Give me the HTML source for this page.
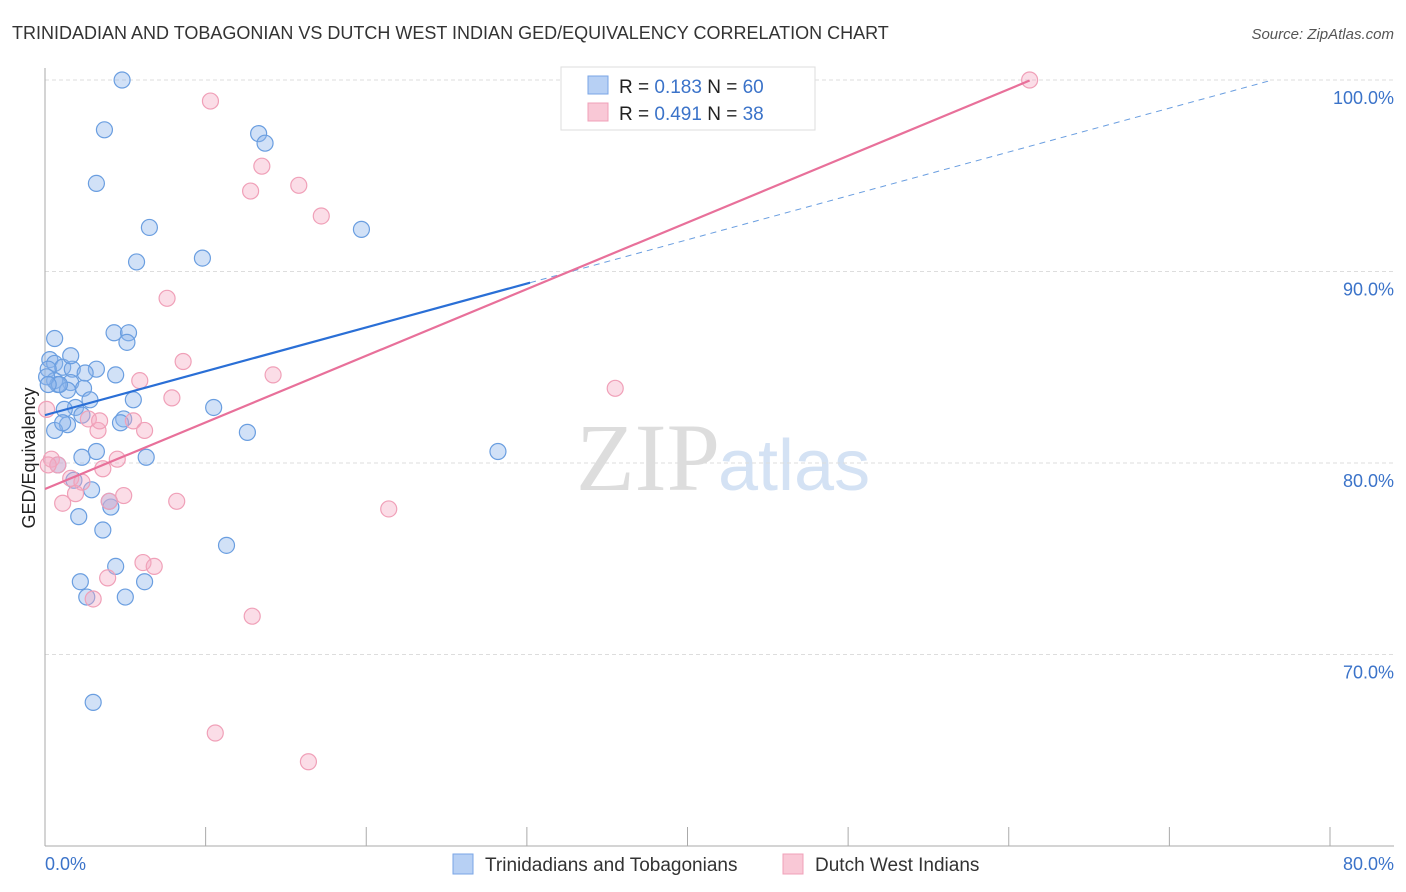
<!DOCTYPE html>
<html><head><meta charset="utf-8"><style>
body{margin:0;background:#fff;font-family:"Liberation Sans",sans-serif;}
svg{display:block}
</style></head><body>
<svg id="chart" width="1406" height="892">
<text x="12" y="39" font-size="18" fill="#333">TRINIDADIAN AND TOBAGONIAN VS DUTCH WEST INDIAN GED/EQUIVALENCY CORRELATION CHART</text>
<text x="1394" y="39" font-size="15" fill="#555" font-style="italic" text-anchor="end">Source: ZipAtlas.com</text>
<text x="720" y="490" font-size="96" fill="#ddd" font-family="Liberation Serif,serif" text-anchor="end">ZIP</text>
<text x="718" y="490" font-size="72" fill="#d4e2f4">atlas</text>
<g id="grid"></g>
<g id="axes"></g>
<g id="marks"></g>
<g id="lines"></g>
<text transform="translate(35,458) rotate(-90)" font-size="18" fill="#222" text-anchor="middle">GED/Equivalency</text>
<text x="45" y="870" font-size="18" fill="#3b73c9">0.0%</text>
<text x="1394" y="870" font-size="18" fill="#3b73c9" text-anchor="end">80.0%</text>
<g>
<rect x="561" y="67" width="254" height="63" fill="#fff" stroke="#ddd"/>
<rect x="588" y="76" width="20" height="18" fill="#b7d0f4" stroke="#7aa5e6"/>
<rect x="588" y="103" width="20" height="18" fill="#f9c8d6" stroke="#f0a0b8"/>
<text x="619" y="93" font-size="19" fill="#222">R = <tspan fill="#3b73c9">0.183</tspan>   N = <tspan fill="#3b73c9">60</tspan></text>
<text x="619" y="120" font-size="19" fill="#222">R = <tspan fill="#3b73c9">0.491</tspan>   N = <tspan fill="#3b73c9">38</tspan></text>
</g>
<g>
<rect x="453" y="854" width="20" height="20" fill="#b7d0f4" stroke="#7aa5e6"/>
<text x="485" y="871" font-size="19" fill="#333">Trinidadians and Tobagonians</text>
<rect x="783" y="854" width="20" height="20" fill="#f9c8d6" stroke="#f0a0b8"/>
<text x="815" y="871" font-size="19" fill="#333">Dutch West Indians</text>
</g>
</svg>
<script>
const yTicks=[100,90,80,70];
const yTickLabels=["100.0%","90.0%","80.0%","70.0%"];
const xTicks=[0,10,20,30,40,50,60,70,80];
const blueX=[4.8,3.7,13.3,13.7,3.2,6.5,19.7,5.7,9.8,0.6,4.3,5.2,5.1,0.3,0.6,1.1,0.2,1.7,0.6,3.2,4.4,1.6,0.8,1.4,2.4,2.8,5.5,1.9,1.2,10.5,2.3,1.4,4.9,4.7,0.6,12.6,3.2,2.3,6.3,28.2,0.8,1.8,2.9,4.1,4.0,2.1,3.6,11.3,4.4,2.2,6.2,2.6,5.0,3.0,0.1,0.9,2.5,0.2,1.1,1.6];
const blueY=[100,97.4,97.2,96.7,94.6,92.3,92.2,90.5,90.7,86.5,86.8,86.8,86.3,85.4,85.2,85.0,84.9,84.9,84.3,84.9,84.6,84.2,84.1,83.8,83.9,83.3,83.3,82.9,82.8,82.9,82.5,82.0,82.3,82.1,81.7,81.6,80.6,80.3,80.3,80.6,79.9,79.1,78.6,77.7,78.0,77.2,76.5,75.7,74.6,73.8,73.8,73.0,73.0,67.5,84.5,84.1,84.7,84.1,82.1,85.6];
const pinkX=[61.3,10.3,13.5,15.8,12.8,17.2,7.6,8.6,5.9,14.2,7.9,35.5,5.5,6.2,3.3,2.7,0.1,0.4,0.8,4.5,3.6,1.6,2.3,1.9,4.9,1.1,4.0,8.2,21.4,6.1,6.8,3.9,3.0,12.9,10.6,16.4,0.2,3.4];
const pinkY=[100,98.9,95.5,94.5,94.2,92.9,88.6,85.3,84.3,84.6,83.4,83.9,82.2,81.7,81.7,82.3,82.8,80.2,79.9,80.2,79.7,79.2,79.0,78.4,78.3,77.9,78.0,78.0,77.6,74.8,74.6,74.0,72.9,72.0,65.9,64.4,79.9,82.2];
const blueTrend=[82.5,0.229];
const pinkTrend=[78.64,0.348];
const NS="http://www.w3.org/2000/svg";
const X=v=>45+v/80*1285;
const Y=v=>80+(100-v)*19.15;
function mk(t,a,p){const e=document.createElementNS(NS,t);for(const k in a)e.setAttribute(k,a[k]);p.appendChild(e);return e;}
const grid=document.getElementById('grid'),axes=document.getElementById('axes'),marks=document.getElementById('marks'),lines=document.getElementById('lines');
yTicks.forEach((t,i)=>{
 const l=mk('line',{x1:45,x2:1394,y1:Y(t),y2:Y(t),stroke:'#ddd','stroke-dasharray':'4,3'},grid);
 
 
 const tx=mk('text',{x:1394,y:Y(t)+24,'font-size':18,fill:'#3b73c9','text-anchor':'end'},grid);
 tx.textContent=yTickLabels[i];
 
 
});
const ya=mk('line',{x1:45,x2:45,y1:68,y2:846,stroke:'#aaa'},axes);


const xa=mk('line',{x1:45,x2:1394,y1:846,y2:846,stroke:'#aaa'},axes);


xTicks.forEach(t=>{
 const l=mk('line',{x1:X(t),x2:X(t),y1:827,y2:846,stroke:'#aaa'},axes);
 
 
});
blueX.forEach((v,i)=>{
 const c=mk('circle',{cx:X(v),cy:Y(blueY[i]),r:8,fill:'rgba(140,180,235,0.4)',stroke:'#6a9ee0','stroke-width':1.2},marks);
 
 
});
pinkX.forEach((v,i)=>{
 const c=mk('circle',{cx:X(v),cy:Y(pinkY[i]),r:8,fill:'rgba(245,170,195,0.4)',stroke:'#f0a0b8','stroke-width':1.2},marks);
 
 
});
const bEnd=Math.max(...blueX)+2;
const bl=mk('line',{x1:X(0),y1:Y(blueTrend[0]),x2:X(bEnd),y2:Y(blueTrend[0]+blueTrend[1]*bEnd),stroke:'#2a6fd6','stroke-width':2.2},lines);


const bFull=(100-blueTrend[0])/blueTrend[1];
const bd=mk('line',{x1:X(bEnd),y1:Y(blueTrend[0]+blueTrend[1]*bEnd),x2:X(bFull),y2:Y(100),stroke:'#6a9ee0','stroke-width':1,'stroke-dasharray':'6,5'},lines);


const pEnd=Math.max(...pinkX);
const pl=mk('line',{x1:X(0),y1:Y(pinkTrend[0]),x2:X(pEnd),y2:Y(pinkTrend[0]+pinkTrend[1]*pEnd),stroke:'#e8709a','stroke-width':2.2},lines);


</script>
</body></html>
